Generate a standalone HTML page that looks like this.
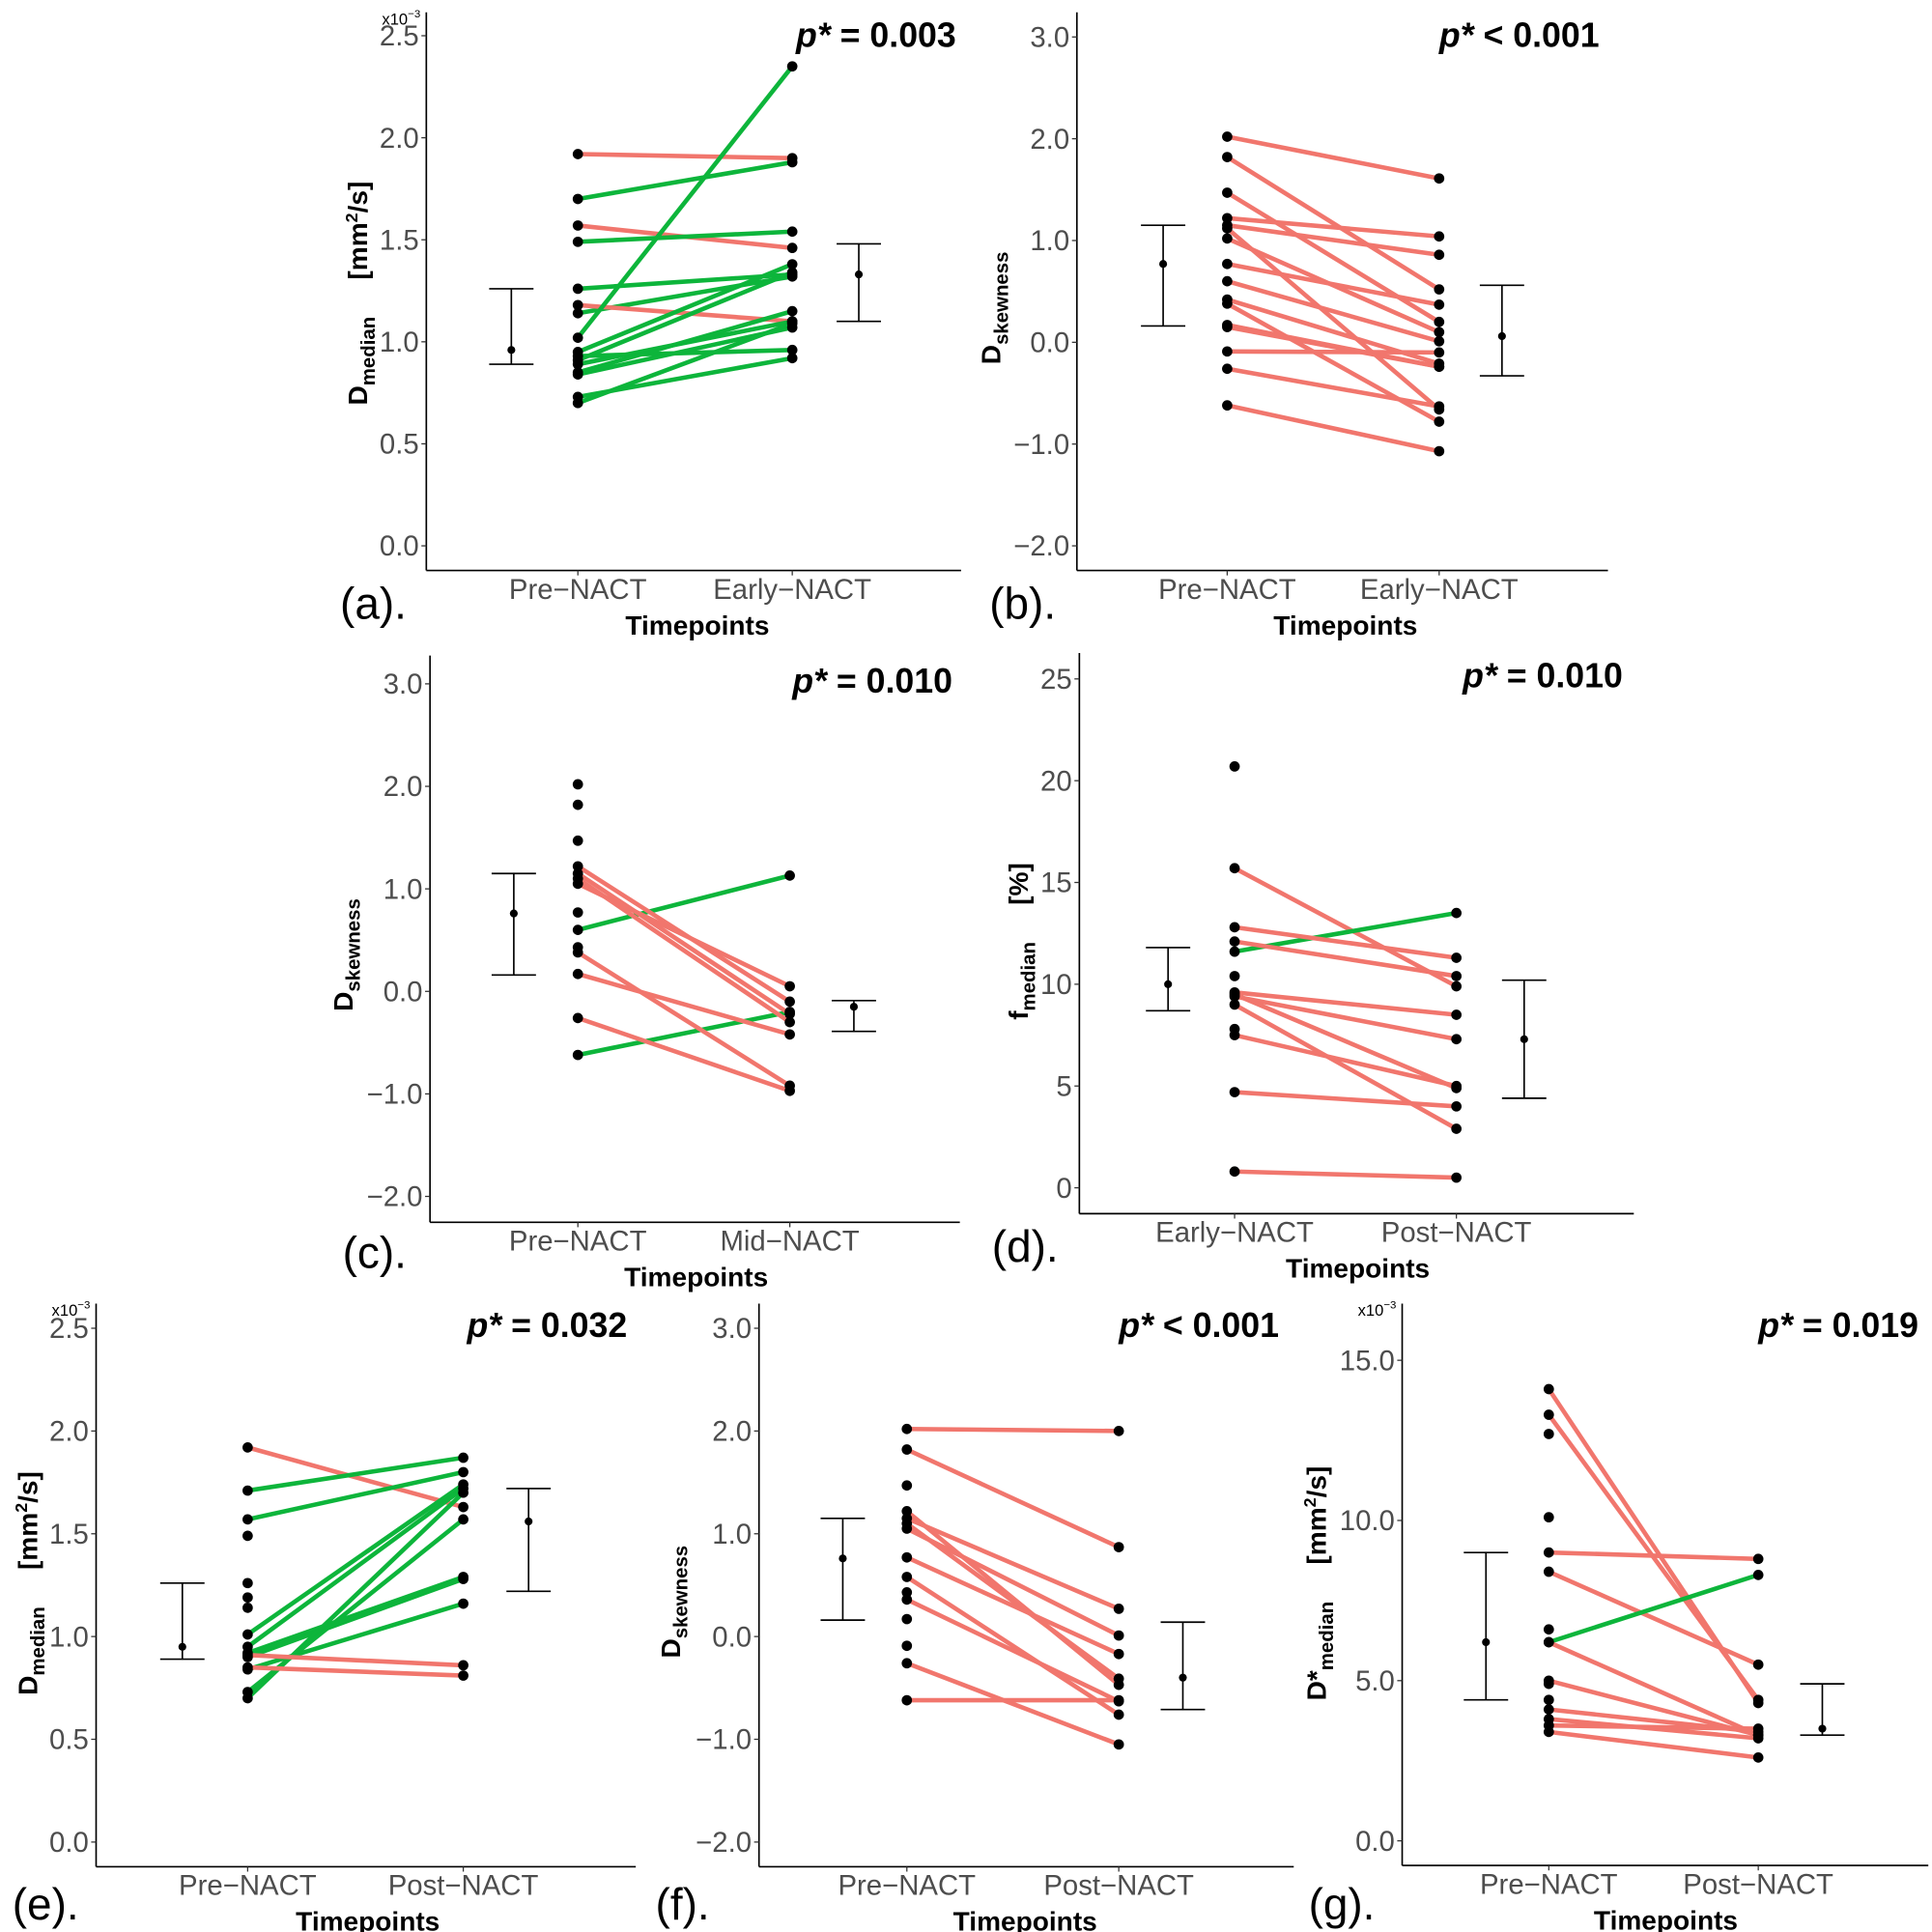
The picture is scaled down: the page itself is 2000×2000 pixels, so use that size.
<!DOCTYPE html>
<html><head><meta charset="utf-8"><style>
html,body{margin:0;padding:0;background:#fff;}
svg{display:block;}
text{font-family:"Liberation Sans",Arial,sans-serif;}
</style></head><body>
<svg id="fig" width="2000" height="2000" viewBox="0 0 1568 1568" xmlns="http://www.w3.org/2000/svg"></svg>
<script>
// ---- Panel (a) data ----
const aCats = ["Pre\u2212NACT","Early\u2212NACT"];
const aPre  = [1.92,1.70,1.57,1.49,1.26,1.14,1.18,1.02,0.95,0.93,0.91,0.89,0.85,0.84,0.73,0.70];
const aPost = [1.90,1.88,1.46,1.54,1.33,1.32,1.10,2.35,1.38,0.96,1.34,1.10,1.15,1.07,0.92,1.09];
const aCol  = ["r","g","r","g","g","g","r","g","g","g","g","g","g","g","g","g"];
const aTicks = [0.0,0.5,1.0,1.5,2.0,2.5];
const aErrL = [0.96,1.26,0.89]; const aErrR = [1.33,1.48,1.10];
// ---- Panel (b) data ----
const bCats = ["Pre\u2212NACT","Early\u2212NACT"];
const bPre  = [2.02,1.82,1.47,1.22,1.15,1.12,1.02,0.77,0.60,0.42,0.38,0.17,0.15,-0.09,-0.26,-0.62];
const bPost = [1.61,0.52,0.20,1.04,0.86,-0.66,0.10,0.37,0.01,-0.21,-0.78,-0.24,-0.24,-0.10,-0.63,-1.07];
const bCol  = ["r","r","r","r","r","r","r","r","r","r","r","r","r","r","r","r"];
const bTicks = [-2,-1,0,1,2,3];
const bErrL = [0.77,1.15,0.16]; const bErrR = [0.06,0.56,-0.33];
// ---- Panel (c) data ----
const cCats = ["Pre\u2212NACT","Mid\u2212NACT"];
const cPre  = [0.60,-0.62,1.22,1.15,1.10,0.38,0.17,-0.26,1.05,2.02,1.82,1.47,0.77,0.43];
const cPost = [1.13,-0.20,-0.10,-0.22,-0.30,-0.92,-0.42,-0.97,0.05,null,null,null,null,null];
const cCol  = ["g","g","r","r","r","r","r","r","r","r","r","r","r","r"];
const cTicks = [-2,-1,0,1,2,3];
const cErrL = [0.76,1.15,0.16]; const cErrR = [-0.15,-0.09,-0.39];
// ---- Panel (d) data ----
const dCats = ["Early\u2212NACT","Post\u2212NACT"];
const dPre  = [15.7,11.6,12.8,12.1,9.6,9.4,9.0,7.5,9.5,4.7,0.8,20.7,10.4,7.8];
const dPost = [9.9,13.5,11.3,10.4,8.5,7.3,2.9,5.0,4.9,4.0,0.5,null,null,null];
const dCol  = ["r","g","r","r","r","r","r","r","r","r","r","r","r","r"];
const dTicks = [0,5,10,15,20,25];
const dErrL = [10.0,11.8,8.7]; const dErrR = [7.3,10.2,4.4];
// ---- Panel (e) data ----
const eCats = ["Pre\u2212NACT","Post\u2212NACT"];
const ePre  = [1.92,1.71,1.57,1.01,0.95,0.92,0.90,0.84,0.70,0.73,0.91,0.85,1.49,1.26,1.19,1.14];
const ePost = [1.63,1.87,1.80,1.74,1.72,1.29,1.28,1.16,1.70,1.57,0.86,0.81,null,null,null,null];
const eCol  = ["r","g","g","g","g","g","g","g","g","g","r","r","r","r","r","r"];
const eTicks = [0.0,0.5,1.0,1.5,2.0,2.5];
const eErrL = [0.95,1.26,0.89]; const eErrR = [1.56,1.72,1.22];
// ---- Panel (f) data ----
const fCats = ["Pre\u2212NACT","Post\u2212NACT"];
const fPre  = [2.02,1.82,1.22,1.15,1.10,1.05,0.77,0.58,0.36,-0.26,-0.62,1.47,0.43,0.17,-0.09];
const fPost = [2.00,0.87,-0.47,0.27,-0.41,0.01,-0.17,-0.76,-0.63,-1.05,-0.62,null,null,null,null];
const fCol  = ["r","r","r","r","r","r","r","r","r","r","r","r","r","r","r"];
const fTicks = [-2,-1,0,1,2,3];
const fErrL = [0.76,1.15,0.16]; const fErrR = [-0.40,0.14,-0.71];
// ---- Panel (g) data ----
const gCats = ["Pre\u2212NACT","Post\u2212NACT"];
const gPre  = [14.1,13.3,9.0,8.4,6.2,6.2,5.0,4.1,3.8,3.6,3.4,12.7,10.1,6.6,4.9,4.4];
const gPost = [4.3,4.4,8.8,5.5,8.3,3.3,3.3,3.4,3.2,3.5,2.6,null,null,null,null,null];
const gCol  = ["r","r","r","r","g","r","r","r","r","r","r","r","r","r","r","r"];
const gTicks = [0,5,10,15];
const gErrL = [6.2,9.0,4.4]; const gErrR = [3.5,4.9,3.3];

const NS="http://www.w3.org/2000/svg";
const svg=document.getElementById('fig');
const RED="#F1766D", GREEN="#0DB53B";
function mk(tag,attrs,parent){const e=document.createElementNS(NS,tag);for(const k in attrs)e.setAttribute(k,attrs[k]);(parent||svg).appendChild(e);return e;}

function panel(o){
  const g=mk('g',{});
  
  
  const y=v=>o.y0+(v-o.t0)*(o.y1-o.y0)/(o.t1-o.t0);
  const ya=mk('line',{x1:o.ax,y1:o.top,x2:o.ax,y2:o.bot,stroke:'#000','stroke-width':1.3},g);
   
  const xa=mk('line',{x1:o.ax,y1:o.bot,x2:o.right,y2:o.bot,stroke:'#000','stroke-width':1.3},g);
   
  o.ticks.forEach(t=>{
    mk('line',{x1:o.ax-4,x2:o.ax,y1:y(t),y2:y(t),stroke:'#333','stroke-width':1},g);
    const tx=mk('text',{x:o.ax-6,y:y(t)+8,'text-anchor':'end','font-size':23,fill:'#4d4d4d'},g);
    tx.textContent=o.fmt(t);
     
  });
  o.cats.forEach((c,i)=>{
    const x=i?o.x2:o.x1;
    mk('line',{x1:x,x2:x,y1:o.bot,y2:o.bot+4,stroke:'#333','stroke-width':1},g);
    const tx=mk('text',{x:x,y:o.bot+23,'text-anchor':'middle','font-size':23,fill:'#4d4d4d'},g);
    tx.textContent=c;
     
  });
  const xt=mk('text',{x:(o.x1+o.x2)/2+10,y:o.bot+52,'text-anchor':'middle','font-size':22,'font-weight':'bold'},g);
  xt.textContent='Timepoints';
   
  const yt=mk('text',{transform:`translate(${o.ytx},${o.yty}) rotate(-90)`,'text-anchor':'middle','font-size':22,'font-weight':'bold'},g);
   
  yt.innerHTML=o.ytitle;
  if(o.sci){const s=mk('text',{x:o.ax-36,y:o.top+10,'font-size':13},g);s.innerHTML='x10<tspan dy="-6" font-size="9">\u22123</tspan>';
     }
  o.pre.forEach((v,i)=>{
    if(o.post[i]==null)return;
    const l=mk('line',{x1:o.x1,y1:y(v),x2:o.x2,y2:y(o.post[i]),stroke:o.col[i]==='g'?GREEN:RED,'stroke-width':3.6},g);
     
  });
  o.pre.forEach((v,i)=>{
    const p=mk('circle',{cx:o.x1,cy:y(v),r:4.2,fill:'#000'},g);
     
    if(o.post[i]!=null){const q=mk('circle',{cx:o.x2,cy:y(o.post[i]),r:4.2,fill:'#000'},g);
       }
  });
  [[o.exL,o.errL],[o.exR,o.errR]].forEach(([x,e])=>{
    const eg=mk('g',{},g);
     
    mk('line',{x1:x,x2:x,y1:y(e[1]),y2:y(e[2]),stroke:'#000','stroke-width':1.3},eg);
    mk('line',{x1:x-18,x2:x+18,y1:y(e[1]),y2:y(e[1]),stroke:'#000','stroke-width':1.3},eg);
    mk('line',{x1:x-18,x2:x+18,y1:y(e[2]),y2:y(e[2]),stroke:'#000','stroke-width':1.3},eg);
    mk('circle',{cx:x,cy:y(e[0]),r:3.2,fill:'#000'},eg);
  });
  const pt=mk('text',{x:o.px,y:o.py,'text-anchor':'end','font-size':28,'font-weight':'bold'},g);
  pt.innerHTML='<tspan font-style="italic">p*</tspan>'+o.ptext;
   
  const lb=mk('text',{x:o.lx,y:o.ly,'font-size':36},g);
  lb.textContent='('+o.id+').';
   
}
const f1=v=>v.toFixed(1).replace('-','\u2212'), f0=v=>String(v);
const DM='D<tspan dy="6" font-size="16">median</tspan><tspan dy="-6" dx="30">[mm</tspan><tspan dy="-8" font-size="14">2</tspan><tspan dy="8">/s]</tspan>';
const DS='D<tspan dy="6" font-size="16">skewness</tspan>';
panel({id:'a',cats:aCats,pre:aPre,post:aPost,col:aCol,ticks:aTicks,errL:aErrL,errR:aErrR,fmt:f1,
  t0:0,t1:2.5,y0:443,y1:29,ax:346,top:10,bot:463,right:780,x1:469,x2:643,exL:415,exR:697,
  ytx:298,yty:238,ytitle:DM,sci:true,px:776,py:38,ptext:' = 0.003',lx:276,ly:502});
panel({id:'b',cats:bCats,pre:bPre,post:bPost,col:bCol,ticks:bTicks,errL:bErrL,errR:bErrR,fmt:f1,
  t0:-2,t1:3,y0:443,y1:30,ax:874,top:10,bot:463,right:1305,x1:996,x2:1168,exL:944,exR:1219,
  ytx:812,yty:250,ytitle:DS,px:1298,py:38,ptext:' < 0.001',lx:803,ly:502});
panel({id:'c',cats:cCats,pre:cPre,post:cPost,col:cCol,ticks:cTicks,errL:cErrL,errR:cErrR,fmt:f1,
  t0:-2,t1:3,y0:971,y1:555,ax:349,top:532,bot:992,right:779,x1:469,x2:641,exL:417,exR:693,
  ytx:286,yty:775,ytitle:DS,px:773,py:562,ptext:' = 0.010',lx:278,ly:1029});
panel({id:'d',cats:dCats,pre:dPre,post:dPost,col:dCol,ticks:dTicks,errL:dErrL,errR:dErrR,fmt:f0,
  t0:0,t1:25,y0:964,y1:551,ax:876,top:530,bot:985,right:1326,x1:1002,x2:1182,exL:948,exR:1237,
  ytx:834,yty:764,ytitle:'f<tspan dy="6" font-size="16">median</tspan><tspan dy="-6" dx="30">[%]</tspan>',px:1317,py:558,ptext:' = 0.010',lx:805,ly:1024});
panel({id:'e',cats:eCats,pre:ePre,post:ePost,col:eCol,ticks:eTicks,errL:eErrL,errR:eErrR,fmt:f1,
  t0:0,t1:2.5,y0:1495,y1:1078,ax:78,top:1058,bot:1515,right:516,x1:201,x2:376,exL:148,exR:429,
  ytx:30,yty:1285,ytitle:DM,sci:true,px:509,py:1085,ptext:' = 0.032',lx:10,ly:1558});
panel({id:'f',cats:fCats,pre:fPre,post:fPost,col:fCol,ticks:fTicks,errL:fErrL,errR:fErrR,fmt:f1,
  t0:-2,t1:3,y0:1495,y1:1078,ax:616,top:1058,bot:1515,right:1050,x1:736,x2:908,exL:684,exR:960,
  ytx:552,yty:1300,ytitle:DS,px:1038,py:1085,ptext:' < 0.001',lx:532,ly:1558});
panel({id:'g',cats:gCats,pre:gPre,post:gPost,col:gCol,ticks:gTicks,errL:gErrL,errR:gErrR,fmt:f1,
  t0:0,t1:15,y0:1494,y1:1104,ax:1138,top:1058,bot:1514,right:1565,x1:1257,x2:1427,exL:1206,exR:1479,
  ytx:1076,yty:1285,ytitle:'D*<tspan dy="6" font-size="16">median</tspan><tspan dy="-6" dx="30">[mm</tspan><tspan dy="-8" font-size="14">2</tspan><tspan dy="8">/s]</tspan>',sci:true,px:1557,py:1085,ptext:' = 0.019',lx:1062,ly:1558});
</script>
</body></html>
